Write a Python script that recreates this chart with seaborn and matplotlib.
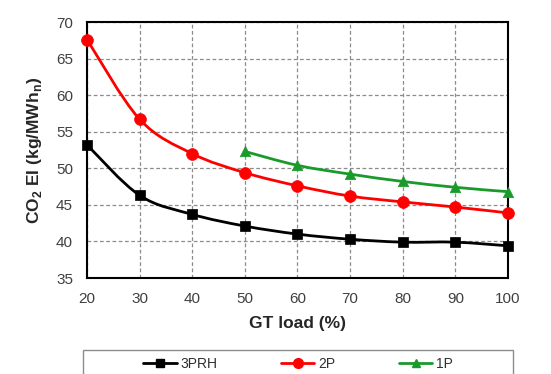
import numpy as np
import pandas as pd
import matplotlib
matplotlib.use("Agg")
import matplotlib.pyplot as plt
from matplotlib.path import Path
from matplotlib.patches import PathPatch, Rectangle
from matplotlib.lines import Line2D
import seaborn as sns

# ---- data ----
load_3prh = [20, 30, 40, 50, 60, 70, 80, 90, 100]
ei_3prh = [53.2, 46.3, 43.7, 42.1, 41.0, 40.3, 39.9, 39.9, 39.4]
load_2p = [20, 30, 40, 50, 60, 70, 80, 90, 100]
ei_2p = [67.6, 56.7, 52.0, 49.4, 47.6, 46.2, 45.4, 44.7, 43.9]
load_1p = [50, 60, 70, 80, 90, 100]
ei_1p = [52.3, 50.4, 49.2, 48.2, 47.4, 46.8]
series_names = ["3PRH", "2P", "1P"]
x_ticks = [20, 30, 40, 50, 60, 70, 80, 90, 100]
y_ticks = [35, 40, 45, 50, 55, 60, 65, 70]

sns.set_theme(style="white")
plt.rcParams["font.family"] = ["Liberation Sans", "DejaVu Sans"]
plt.rcParams["mathtext.fontset"] = "custom"
plt.rcParams["mathtext.rm"] = "Liberation Sans"
plt.rcParams["mathtext.bf"] = "Liberation Sans:bold"

df = pd.concat([
    pd.DataFrame({"load": load_3prh, "ei": ei_3prh, "series": series_names[0]}),
    pd.DataFrame({"load": load_2p, "ei": ei_2p, "series": series_names[1]}),
    pd.DataFrame({"load": load_1p, "ei": ei_1p, "series": series_names[2]}),
], ignore_index=True)

colors = {"3PRH": "#000000", "2P": "#FF0000", "1P": "#1A9A2A"}
markers = {"3PRH": "s", "2P": "o", "1P": "^"}
msizes = {"3PRH": 7.5, "2P": 8.5, "1P": 7.5}

fig = plt.figure(figsize=(5.51, 3.74), dpi=100)
ax = fig.add_axes([87/551, 1-278/374, (508-87)/551, (278-22)/374])


def smooth_path(xs, ys):
    # Excel-style smoothed line: cubic Bezier segments through the data points
    xs = np.asarray(xs, float); ys = np.asarray(ys, float)
    n = len(xs)
    verts = [(xs[0], ys[0])]
    codes = [Path.MOVETO]
    for i in range(n - 1):
        p0 = np.array([xs[max(i-1, 0)], ys[max(i-1, 0)]])
        p1 = np.array([xs[i], ys[i]])
        p2 = np.array([xs[i+1], ys[i+1]])
        p3 = np.array([xs[min(i+2, n-1)], ys[min(i+2, n-1)]])
        c1 = p1 + (p2 - p0) / 6.0
        c2 = p2 - (p3 - p1) / 6.0
        verts += [tuple(c1), tuple(c2), tuple(p2)]
        codes += [Path.CURVE4] * 3
    return Path(verts, codes)


for name in series_names:
    sub = df[df["series"] == name]
    patch = PathPatch(smooth_path(sub["load"], sub["ei"]), facecolor="none",
                      edgecolor=colors[name], lw=2.0, zorder=3,
                      transform=ax.transData, clip_on=False)
    ax.add_patch(patch)

# markers through seaborn
for name in series_names:
    sub = df[df["series"] == name]
    sns.scatterplot(x=sub["load"], y=sub["ei"], marker=markers[name],
                    color=colors[name], s=msizes[name] ** 2, edgecolor=colors[name],
                    linewidth=0.5, ax=ax, zorder=4, clip_on=False, legend=False)

ax.set_xlim(20, 100)
ax.set_ylim(35, 70)
ax.set_xticks(x_ticks)
ax.set_yticks(y_ticks)
ax.tick_params(axis="both", labelsize=11, colors="#404040", length=0, pad=10)
ax.grid(True, linestyle=(0, (3, 2)), color="#8c8c8c", linewidth=0.9)
for sp in ax.spines.values():
    sp.set_visible(True)
    sp.set_color("black")
    sp.set_linewidth(1.5)
ax.set_xlabel("GT load (%)", fontsize=12.5, fontweight="bold", labelpad=7)
ax.set_ylabel(r"CO$_\mathbf{2}$ EI (kg/MWh$_\mathbf{n}$)", fontsize=12.5,
              fontweight="bold", labelpad=9)

# legend frame (extends below the figure edge, as in the reference)
fig.patches.append(Rectangle((83/551, -0.1), 430/551, 0.1 + 1 - 350/374,
                             transform=fig.transFigure, facecolor="white",
                             edgecolor="#8c8c8c", linewidth=1.0, zorder=0))

handles = [Line2D([], [], color=colors[n], marker=markers[n], lw=2.0,
                  markersize=msizes[n] - 1.5) for n in series_names]
leg = fig.legend(handles, series_names, loc="center", ncol=3,
                 bbox_to_anchor=(298/551, 1-364/374),
                 frameon=False, fontsize=10,
                 handlelength=2.4, handletextpad=0.25, columnspacing=4.6)
for t in leg.get_texts():
    t.set_color("#303030")

fig.savefig("out.png", dpi=100)
